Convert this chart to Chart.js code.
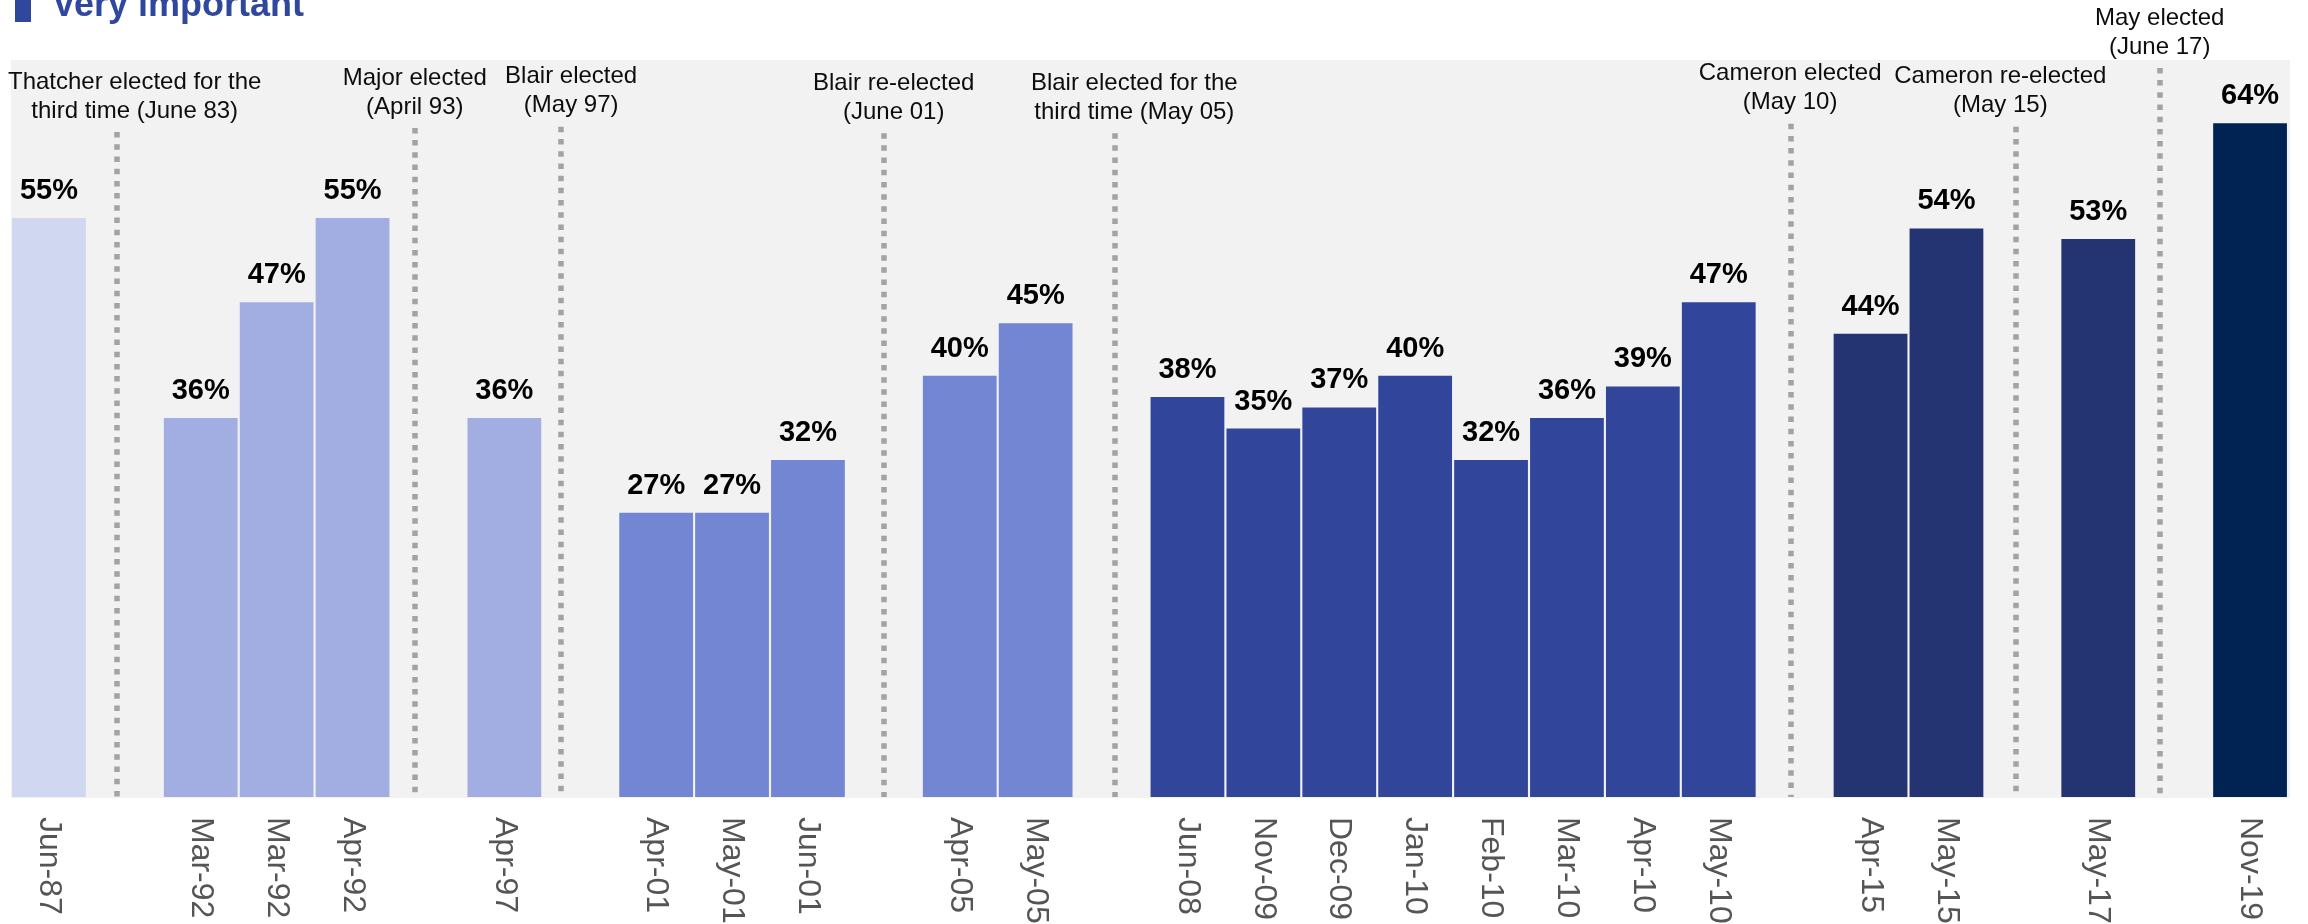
<!DOCTYPE html>
<html>
<head>
<meta charset="utf-8">
<script src="https://cdn.jsdelivr.net/npm/chart.js@4.4.1/dist/chart.umd.min.js"></script>
<style>
  html, body { margin: 0; padding: 0; background: #ffffff; }
  #wrap { width: 2308px; height: 924px; position: relative; }
</style>
</head>
<body>
<div id="wrap"><canvas id="c"></canvas></div>
<script>
// ---- Data ----
const titleText = 'Very important';

const categories = ['Jun-87', '', 'Mar-92', 'Mar-92', 'Apr-92', '', 'Apr-97', '', 'Apr-01', 'May-01', 'Jun-01', '',
  'Apr-05', 'May-05', '', 'Jun-08', 'Nov-09', 'Dec-09', 'Jan-10', 'Feb-10', 'Mar-10', 'Apr-10', 'May-10', '',
  'Apr-15', 'May-15', '', 'May-17', '', 'Nov-19'];

const veryImportant = [55, null, 36, 47, 55, null, 36, null, 27, 27, 32, null,
  40, 45, null, 38, 35, 37, 40, 32, 36, 39, 47, null,
  44, 54, null, 53, null, 64];

const barColors = ['#d0d7f0', null, '#a2aee2', '#a2aee2', '#a2aee2', null, '#a2aee2', null, '#7286d4', '#7286d4', '#7286d4', null,
  '#7286d4', '#7286d4', null, '#31469b', '#31469b', '#31469b', '#31469b', '#31469b', '#31469b', '#31469b', '#31469b', null,
  '#243473', '#243473', null, '#243473', null, '#002353'];

const eventLabels = [
  ['Thatcher elected for the', 'third time (June 83)'],
  ['Major elected', '(April 93)'],
  ['Blair elected', '(May 97)'],
  ['Blair re-elected', '(June 01)'],
  ['Blair elected for the', 'third time (May 05)'],
  ['Cameron elected', '(May 10)'],
  ['Cameron re-elected', '(May 15)'],
  ['May elected', '(June 17)']
];
// positions on the category axis (index units)
const eventLinePos = [0.9, 4.82, 6.75, 11.0, 14.04, 22.95, 25.92, 27.81];
const eventTextPos = [1.13, 4.82, 6.88, 11.13, 14.30, 22.94, 25.71, 27.81];
// height (in % units of the value axis) of the first text line
const eventTextLevel = [67.9, 68.3, 68.4, 67.8, 67.8, 68.7, 68.4, 74.0];

const yMax = 70;

// ---- Plugins ----
const FONT = "'Liberation Sans', Arial, sans-serif";

const decor = {
  id: 'decor',
  beforeDraw(chart) {
    const { ctx, chartArea: a } = chart;
    ctx.save();
    ctx.fillStyle = '#f2f2f2';
    ctx.fillRect(a.left, a.top, a.right - a.left + 2, a.bottom - a.top + 1);
    // title (partly cut at top like the reference)
    ctx.fillStyle = '#2f489e';
    ctx.fillRect(15, 0, 16, 22);
    ctx.font = 'bold 36px ' + FONT;
    ctx.textAlign = 'left';
    ctx.textBaseline = 'alphabetic';
    ctx.fillText(titleText, 52, 16);
    ctx.restore();
  },
  beforeDatasetsDraw(chart) {
    const { ctx, chartArea: a, scales: { x, y } } = chart;
    ctx.save();
    ctx.strokeStyle = '#a3a3a3';
    ctx.lineWidth = 5.5;
    ctx.setLineDash([5.5, 6.7]);
    eventLinePos.forEach((p, i) => {
      const px = Math.round(x.getPixelForValue(p));
      const top = y.getPixelForValue(eventTextLevel[i]) + 29 + 21;
      ctx.beginPath();
      ctx.moveTo(px, top);
      ctx.lineTo(px, a.bottom);
      ctx.stroke();
    });
    ctx.setLineDash([]);
    ctx.fillStyle = '#0d0d0d';
    ctx.font = '24px ' + FONT;
    ctx.textAlign = 'center';
    ctx.textBaseline = 'middle';
    eventLabels.forEach((lines, i) => {
      const px = x.getPixelForValue(eventTextPos[i]);
      const py = y.getPixelForValue(eventTextLevel[i]);
      lines.forEach((t, k) => ctx.fillText(t, px, py + k * 29));
    });
    ctx.restore();
  },
  afterDatasetsDraw(chart) {
    const { ctx, chartArea: a, scales: { x } } = chart;
    const meta = chart.getDatasetMeta(0);
    ctx.save();
    // value labels
    ctx.fillStyle = '#000000';
    ctx.font = 'bold 29px ' + FONT;
    ctx.textAlign = 'center';
    ctx.textBaseline = 'alphabetic';
    meta.data.forEach((bar, i) => {
      const v = veryImportant[i];
      if (v === null || v === undefined) return;
      ctx.fillText(v + '%', bar.x, bar.y - 19);
    });
    // category labels rotated clockwise
    ctx.fillStyle = '#555555';
    ctx.font = '32px ' + FONT;
    ctx.textAlign = 'left';
    ctx.textBaseline = 'middle';
    categories.forEach((lab, i) => {
      if (!lab) return;
      const px = x.getPixelForValue(i);
      ctx.save();
      ctx.translate(px, a.bottom + 20);
      ctx.rotate(Math.PI / 2);
      ctx.fillText(lab, 0, 0);
      ctx.restore();
    });
    ctx.restore();
  }
};

new Chart(document.getElementById('c'), {
  type: 'bar',
  data: {
    labels: categories,
    datasets: [{
      label: titleText,
      data: veryImportant,
      backgroundColor: barColors.map(c => c || 'rgba(0,0,0,0)'),
      borderWidth: 0,
      barPercentage: 0.972,
      categoryPercentage: 1.0
    }]
  },
  options: {
    responsive: true,
    maintainAspectRatio: false,
    animation: false,
    layout: { padding: { left: 11, right: 20, top: 60, bottom: 127 } },
    plugins: {
      legend: { display: false },
      title: { display: false },
      tooltip: { enabled: false }
    },
    scales: {
      x: { display: false, offset: true, grid: { display: false } },
      y: { display: false, min: 0, max: yMax, grid: { display: false } }
    }
  },
  plugins: [decor]
});
</script>
</body>
</html>
